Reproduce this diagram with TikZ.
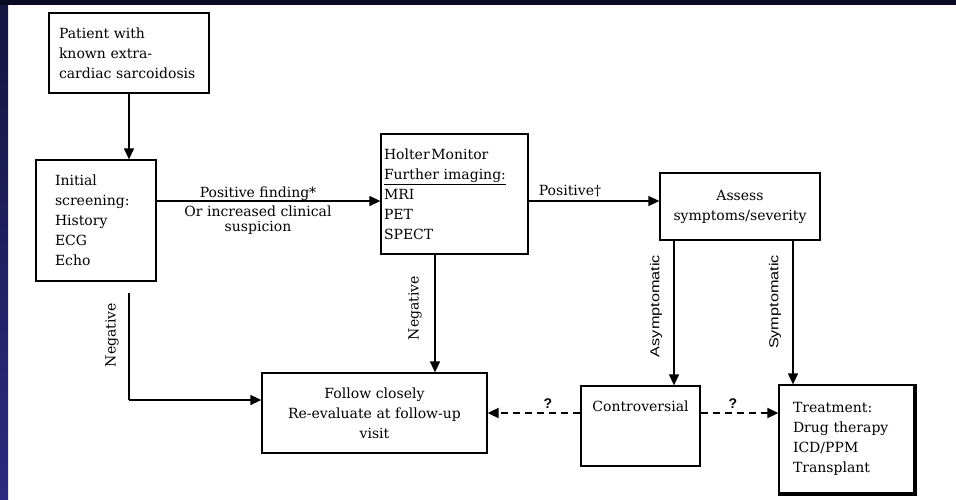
\documentclass[tikz,border=0pt]{standalone}
\usepackage{fontspec}
\setmainfont{DejaVu Serif}
\newfontfamily\labsans{Liberation Sans}
\usetikzlibrary{arrows.meta}
\definecolor{navytop}{HTML}{0B0B26}
\definecolor{navymid}{HTML}{15153F}
\definecolor{navybot}{HTML}{2B2A80}
\begin{document}
\begin{tikzpicture}[x=1pt,y=-1pt,
  box/.style={draw, line width=1.3pt, inner sep=0pt, font=\fontsize{14}{20}\selectfont},
  lab/.style={inner sep=0pt, font=\fontsize{14}{16}\selectfont},
  rlab/.style={inner sep=0pt, rotate=90, font=\fontsize{14}{16}\selectfont},
  slab/.style={inner sep=0pt, rotate=90, font=\labsans\fontsize{13}{16}\selectfont},
  qlab/.style={inner sep=0pt, font=\labsans\bfseries\fontsize{14}{16}\selectfont},
  arr/.style={line width=1.3pt, -{Triangle[length=11pt,width=10pt]}},
  darr/.style={line width=1.8pt, dash pattern=on 7pt off 5pt, -{Triangle[length=11pt,width=10pt]}}]
\useasboundingbox (0,0) rectangle (956,499);
\fill[white] (0,0) rectangle (956,499);
\shade[top color=navymid, bottom color=navybot] (0,0) rectangle (8,499);
\fill[navytop] (0,0) rectangle (956,5);

% boxes
\node[box, minimum width=160pt, minimum height=80pt, text width=140pt, align=left] (patient) at (129,53)
  {Patient with\\known extra-\\cardiac sarcoidosis};
\node[box, minimum width=120pt, minimum height=121pt, text width=82pt, align=left] (initial) at (96,220.5)
  {Initial\\screening:\\History\\ECG\\Echo};
\node[box, minimum width=147pt, minimum height=120pt, text width=141pt, align=left] (holter) at (454.5,194)
  {Holter\hspace{0.12em}Monitor\\\underline{Further imaging:}\\MRI\\PET\\SPECT};
\node[box, minimum width=160pt, minimum height=67pt, text width=150pt, align=center] (assess) at (740,206.5)
  {Assess\\symptoms/severity\\[-6pt]};
\node[box, minimum width=225pt, minimum height=80pt, text width=210pt, align=center] (follow) at (374.5,413)
  {Follow closely\\Re-evaluate at follow-up\\visit};
\node[box, minimum width=119pt, minimum height=80pt] (contro) at (640.5,426) {};
\node[inner sep=0pt, font=\fontsize{14}{16}\selectfont] (controtxt) at (640.5,406) {Controversial};
\node[box, minimum width=135pt, minimum height=108pt, text width=107pt, align=left] (treat) at (846.5,439)
  {Treatment:\\Drug therapy\\ICD/PPM\\Transplant\\[10pt]};
% shadow edge of the treatment box
\draw[line width=1.6pt] ([xshift=1.6pt]treat.north east) -- ([xshift=1.6pt,yshift=-1.6pt]treat.south east)
  -- ([yshift=-1.6pt]treat.south west);

% helper coordinates
\coordinate (r1) at (0,201);
\coordinate (c2) at (435,0);
\coordinate (c3) at (674,0);
\coordinate (c4) at (793,0);
\coordinate (n0) at (129,293);
\coordinate (n1) at (129,400);

% connectors
\draw[arr] (patient.south) -- (patient.south |- initial.north);
\draw[arr] (initial.east |- r1) -- (holter.west |- r1);
\draw[arr] (holter.east |- r1) -- (assess.west |- r1);
\draw[arr] (holter.south -| c2) -- (follow.north -| c2);
\draw[line width=1.3pt] (n0) -- (n1);
\draw[arr] (n1) -- (follow.west |- n1);
\draw[arr] (assess.south -| c3) -- (contro.north -| c3);
\draw[arr] (assess.south -| c4) -- (treat.north -| c4);
\draw[darr] (contro.west |- follow.east) -- (follow.east);
\draw[darr] (contro.east |- follow.east) -- (treat.west |- follow.east);

% labels
\node[lab, anchor=base] (pf) at (258,197) {Positive finding*};
\node[lab, anchor=base] (oi) at (258,216) {Or increased clinical};
\node[lab, anchor=base] (su) at (258,231.5) {suspicion};
\node[lab, anchor=base] (pos) at (570,195.5) {Positive†};
\node[rlab] (neg1) at (112,335) {Negative};
\node[rlab] (neg2) at (415,308) {Negative};
\node[slab] (asym) at (656,306) {\scalebox{1.25}[1]{Asymptomatic}};
\node[slab] (sym) at (775,302) {\scalebox{1.25}[1]{Symptomatic}};
\node[qlab, anchor=base] (q1) at (548,408) {?};
\node[qlab, anchor=base] (q2) at (733,408) {?};
\end{tikzpicture}
\end{document}
